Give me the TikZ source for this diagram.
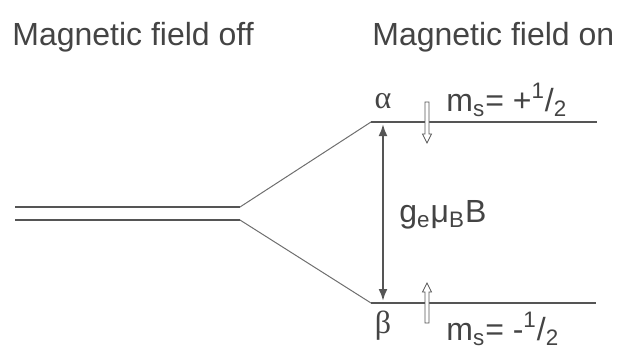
\documentclass[tikz,border=0pt]{standalone}
\usepackage{fontspec}
\setmainfont{Liberation Sans}
\newfontfamily\greekfont{Liberation Serif}
\usetikzlibrary{arrows.meta}

\definecolor{linegray}{HTML}{555555}
\definecolor{textgray}{HTML}{444444}

\tikzset{
  level/.style={draw=linegray, line width=1.1pt},
  split/.style={draw=linegray!85, line width=0.5pt},
  spin/.style={draw=linegray, line width=0.4pt, fill=white},
  lbl/.style={text=textgray, font=\fontsize{16}{19}\selectfont, inner sep=0pt},
}

\begin{document}
\begin{tikzpicture}[x=0.5pt,y=-0.5pt]
	\useasboundingbox (0,0) rectangle (617,350);

	% titles
	\node[lbl, anchor=west] (off) at (12,37) {Magnetic field off};
	\node[lbl, anchor=west] (on) at (372,37) {Magnetic field on};

	% degenerate level
	\coordinate (upl) at (15,207);
	\coordinate (upr) at (240,207);
	\coordinate (lol) at (15,220);
	\coordinate (lor) at (240,220);
	\draw[level] (upl) -- (upr);
	\draw[level] (lol) -- (lor);

	% split levels
	\coordinate (al) at (371,122);
	\coordinate (ar) at (597,122);
	\coordinate (bl) at (371,303);
	\coordinate (br) at (596,303);
	\draw[split] (upr) -- (al);
	\draw[split] (lor) -- (bl);
	\draw[level] (al) -- (ar);
	\draw[level] (bl) -- (br);

	% energy gap
	\coordinate (gt) at (383,124);
	\coordinate (gb) at (383,301);
	\draw[linegray, line width=1.1pt,
	  {Latex[length=6pt,width=4.5pt]}-{Latex[length=6pt,width=4.5pt]}]
	  (gt) -- (gb);
	\node[lbl, anchor=west] (gap) at (399,215)
	  {g\textsubscript{e}μ\textsubscript{B}B};

	% spins
	\draw[spin] (425,102) -- (429,102) -- (429,134) -- (431.5,134)
	  -- (427,143) -- (422.5,134) -- (425,134) -- cycle;
	\draw[spin] (425,323) -- (429,323) -- (429,292) -- (431.5,292)
	  -- (427,283) -- (422.5,292) -- (425,292) -- cycle;

	% labels
	\node[lbl] (alpha) at (383,101) {\greekfont α};
	\node[lbl] (beta) at (383,326) {\greekfont β};
	\node[lbl, anchor=west] (msa) at (446,100)
	  {m\textsubscript{s}= +\textsuperscript{1}/\textsubscript{2}};
	\node[lbl, anchor=west] (msb) at (446,329)
	  {m\textsubscript{s}= -\textsuperscript{1}/\textsubscript{2}};

\end{tikzpicture}
\end{document}
